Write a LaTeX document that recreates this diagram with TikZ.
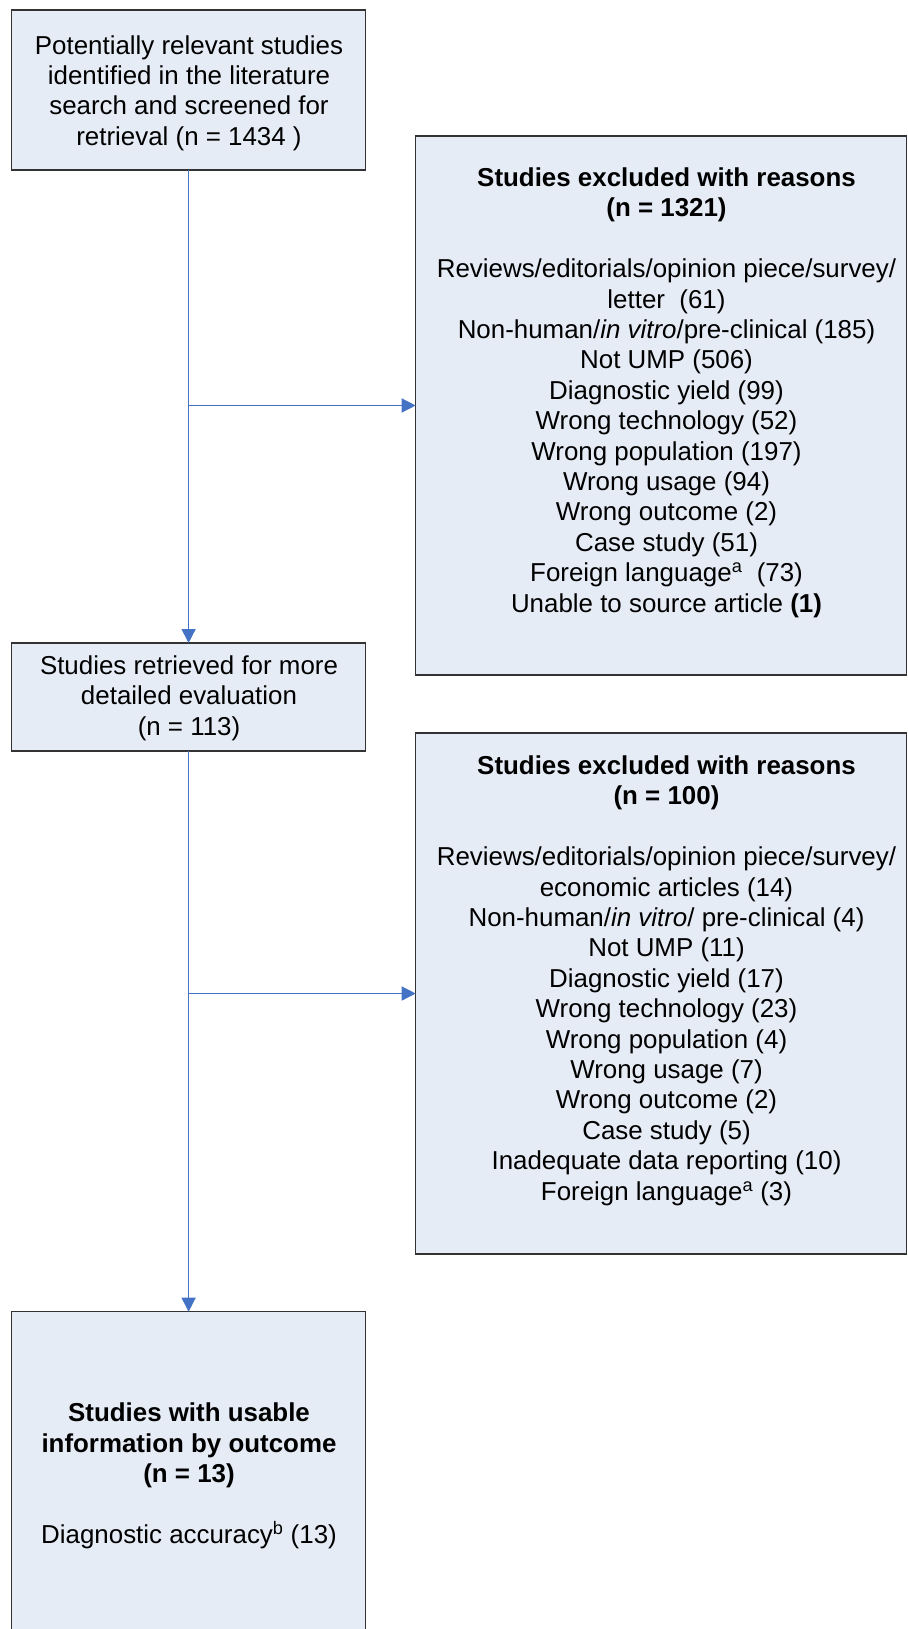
\documentclass[tikz,border=0pt]{standalone}
\usepackage{fontspec}
\setmainfont{Liberation Sans}
\usetikzlibrary{arrows.meta}
\definecolor{boxfill}{HTML}{E6ECF6}
\definecolor{connblue}{HTML}{4472C4}
\begin{document}
\begin{tikzpicture}[x=1pt,y=-1pt,
  box/.style={draw=black!80, line width=1.5pt, fill=boxfill, inner sep=0pt, outer sep=0pt},
  txt/.style={align=center, inner sep=0pt, font=\fontsize{25.9}{30.4}\selectfont},
  arr/.style={draw=connblue, line width=1.4pt, -{Triangle[length=14pt,width=14pt]}}]
\useasboundingbox (0,0) rectangle (907,1629);
% boxes
\node[box, minimum width=354pt, minimum height=160pt] (b1) at (188.6,90) {};
\node[box, minimum width=491pt, minimum height=539pt] (b2) at (661.2,405.5) {};
\node[box, minimum width=354pt, minimum height=108pt] (b3) at (188.6,697) {};
\node[box, minimum width=491pt, minimum height=521pt] (b4) at (661.2,993.5) {};
\node[box, minimum width=354pt, minimum height=324pt] (b5) at (188.6,1473.7) {};
% texts
\node[txt] (t1) at (189,93) {Potentially relevant studies\\identified in the literature\\search and screened for\\retrieval (n = 1434 )};
\node[txt] (t2) at (666.5,392.6) {\textbf{Studies excluded with reasons}\\\textbf{(n = 1321)}\\[30.4pt]
Reviews/editorials/opinion piece/survey/\\letter\ \ (61)\\Non-human/\textit{in vitro}/pre-clinical (185)\\Not UMP (506)\\Diagnostic yield (99)\\Wrong technology (52)\\Wrong population (197)\\Wrong usage (94)\\Wrong outcome (2)\\Case study (51)\\Foreign language\textsuperscript{a}\ \ (73)\\Unable to source article \textbf{(1)}};
\node[txt] (t3) at (189,698) {Studies retrieved for more\\detailed evaluation\\(n = 113)};
\node[txt] (t4) at (666.5,980.6) {\textbf{Studies excluded with reasons}\\\textbf{(n = 100)}\\[30.4pt]
Reviews/editorials/opinion piece/survey/\\economic articles (14)\\Non-human/\textit{in vitro}/ pre-clinical (4)\\Not UMP (11)\\Diagnostic yield (17)\\Wrong technology (23)\\Wrong population (4)\\Wrong usage (7)\\Wrong outcome (2)\\Case study (5)\\Inadequate data reporting (10)\\Foreign language\textsuperscript{a} (3)};
\node[txt] (t5) at (189,1476) {\textbf{Studies with usable}\\\textbf{information by outcome}\\\textbf{(n = 13)}\\[30.4pt]Diagnostic accuracy\textsuperscript{b} (13)};
% connectors
\draw[arr] (b1) -- (b3);
\draw[arr] (b3) -- (b5);
\draw[arr] (b1.south |- b2.west) -- (b2.west);
\draw[arr] (b3.south |- b4.west) -- (b4.west);
\end{tikzpicture}
\end{document}
